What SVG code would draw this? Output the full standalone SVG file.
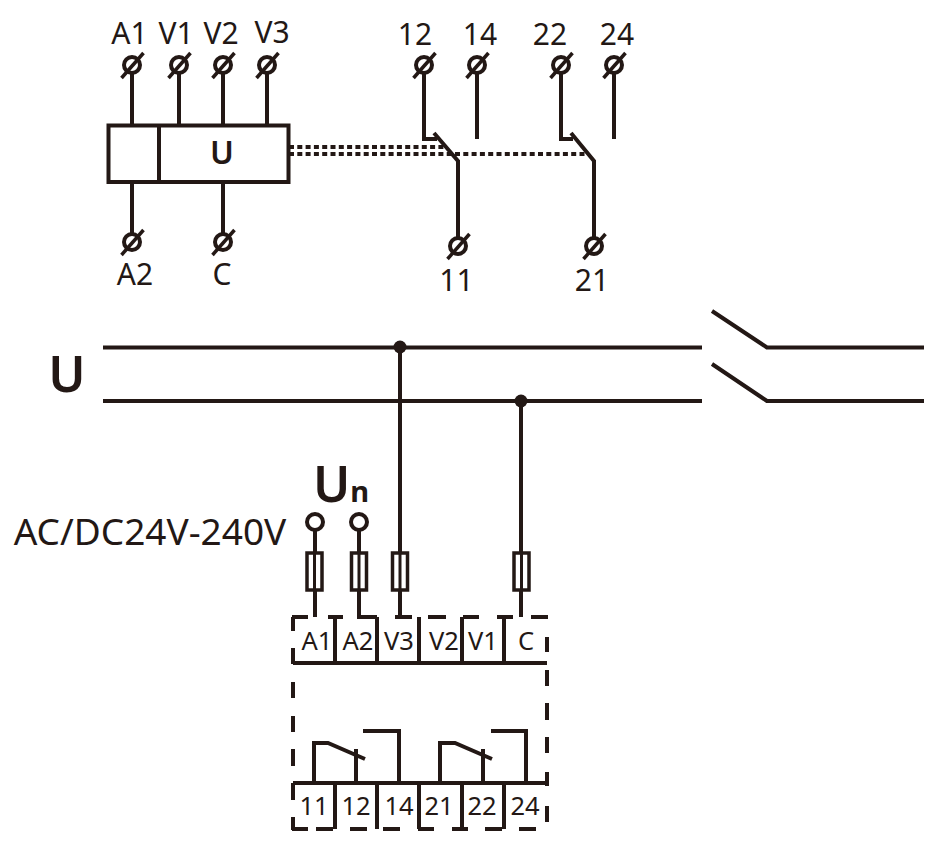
<svg xmlns="http://www.w3.org/2000/svg" width="941" height="849" viewBox="0 0 941 849">
<defs>
<style>
.w{fill:none;stroke:#231815;stroke-width:4;stroke-linecap:butt;stroke-linejoin:miter}
.d{fill:none;stroke:#231815;stroke-width:4;stroke-dasharray:5 3.300}
.t{font-family:"Noto Sans","Noto Sans CJK SC",sans-serif;fill:#231815;text-anchor:middle}
.l{font-size:30px}
.s{font-size:25.500px}
.f{fill:#fff;stroke:#231815;stroke-width:3.5}
</style>
<g id="term"><circle r="8" fill="none" stroke="#231815" stroke-width="4"/><path d="M-10.500 13L11.500-12" fill="none" stroke="#231815" stroke-width="3.500"/></g>
<g id="fuse"><rect x="-7.500" y="0" width="15" height="37" class="f"/><path d="M0 0V37" fill="none" stroke="#231815" stroke-width="3"/></g>
</defs>
<rect width="941" height="849" fill="#fff"/>
<g id="connectors">
<path class="w" d="M132 73V125M179 73V125M223 73V125M267 73V125M132 182V234M223 182V234"/>
<path class="d" d="M289 147H445M289 154H586"/>
<path class="w" d="M424 73V139H437M434 133L458 161V238M477 73V139M561 73V139H573M571 133L594 161V238M614 73V139"/>
<path class="w" d="M103 347.500H702M766 347.500H924M712 311L767 347.500M103 401H702M766 401H924M712 364L767 401"/>
<path class="w" d="M400 347V617M521 401V617M315 530V617M359 530V617H377"/>
</g>
<g id="relay-box">
<rect x="108.500" y="125.500" width="180" height="56.500" fill="none" stroke="#231815" stroke-width="4"/>
<path class="w" d="M159 125V182"/>
<text class="t" x="222" y="164" font-size="32" font-weight="600">U</text>
</g>
<g id="terminals">
<use href="#term" x="132" y="65"/><use href="#term" x="179" y="65"/><use href="#term" x="223" y="65"/><use href="#term" x="267" y="65"/>
<use href="#term" x="132" y="242"/><use href="#term" x="223" y="242"/>
<use href="#term" x="424" y="65"/><use href="#term" x="477" y="65"/><use href="#term" x="561" y="65"/><use href="#term" x="614" y="65"/>
<use href="#term" x="458" y="246"/><use href="#term" x="594" y="246"/>
</g>
<g id="top-labels" class="t l">
<text x="129.500" y="44">A1</text><text x="176" y="44">V1</text><text x="221" y="44">V2</text><text x="272" y="43">V3</text>
<text x="135" y="285">A2</text><text x="222" y="285">C</text>
<text x="415" y="45">12</text><text x="480" y="45">14</text><text x="550" y="45">22</text><text x="617" y="45">24</text>
<text x="456.500" y="291">11</text><text x="592" y="291">21</text>
</g>
<g id="bus">
<circle cx="400" cy="347" r="6.500" fill="#231815"/><circle cx="521" cy="401" r="6.500" fill="#231815"/>
<text class="t" x="67" y="392" font-size="50" font-weight="600">U</text>
</g>
<g id="supply">
<text class="t" x="150" y="545" font-size="37">AC/DC24V-240V</text>
<text class="t" x="341" y="502" font-size="50" font-weight="600">U<tspan font-size="29" font-weight="700">n</tspan></text>
<circle cx="315" cy="522" r="8" fill="#fff" stroke="#231815" stroke-width="4"/>
<circle cx="359" cy="522" r="8" fill="#fff" stroke="#231815" stroke-width="4"/>
<use href="#fuse" x="314.500" y="553"/><use href="#fuse" x="359" y="553"/><use href="#fuse" x="400" y="553"/><use href="#fuse" x="521.500" y="553"/>
</g>
<g id="module">
<path class="w" d="M292 617H308M328 617H343M395 617H412M428 617H446M463 617H479M497 617H513M531 617H548"/>
<path class="w" d="M293 617V631M293 648V664M293 682V698M293 716V732M293 749V766M293 783V800M293 817V830"/>
<path class="w" d="M292 829H308M316 829H333M350 829H367M383 829H400M418 829H434M452 829H468M485 829H502M519 829H536"/>
<path class="w" d="M547 637V652M547 670V686M547 703V720M547 737V753M547 772V786M547 806V822"/>
<path class="w" d="M293 663H547M293 783H547"/>
<path class="w" d="M335 617V663M377 617V663M419 617V663M462 617V663M504 617V663"/>
<path class="w" d="M335 783V829M377 783V829M419 783V829M462 783V829M504 783V829"/>
<path class="w" d="M314 783V743H328L365 759M356 749V783M363 731H399V783"/>
<path class="w" d="M440 783V743H455L492 759M483 749V783M491 731H526V783"/>
<g class="t s">
<text x="317" y="650">A1</text><text x="358" y="650">A2</text><text x="399" y="650">V3</text><text x="444" y="650">V2</text><text x="483" y="650">V1</text><text x="526" y="650">C</text>
<text x="314" y="815">11</text><text x="356" y="815">12</text><text x="399" y="815">14</text><text x="439" y="815">21</text><text x="482" y="815">22</text><text x="525" y="815">24</text>
</g>
</g>
</svg>
